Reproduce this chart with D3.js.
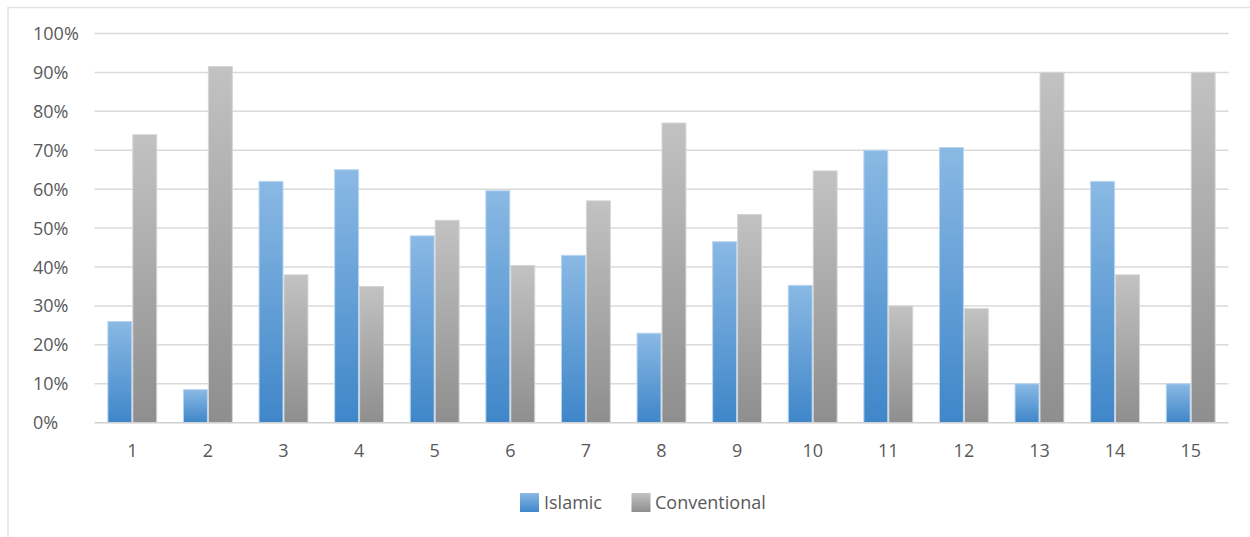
<!DOCTYPE html>
<html>
<head>
<meta charset="utf-8">
<script src="https://cdn.jsdelivr.net/npm/d3@7"></script>
<style>
  html, body { margin: 0; padding: 0; background: #fff; }
  svg { display: block; }
  text { font-family: "Open Sans", "DejaVu Sans", sans-serif; fill: #595959; }
</style>
</head>
<body>
<svg id="chart" width="1250" height="537"></svg>
<script>
// Share of each bank type per group (percent)
const categories = ["1","2","3","4","5","6","7","8","9","10","11","12","13","14","15"];
const islamic      = [26, 8.5, 62, 65, 48, 59.6, 43, 23, 46.5, 35.3, 70, 70.7, 10, 62, 10];
const conventional = [74, 91.5, 38, 35, 52, 40.4, 57, 77, 53.5, 64.7, 30, 29.3, 90, 38, 90];
const seriesNames  = ["Islamic", "Conventional"];
const yTicks       = [0, 10, 20, 30, 40, 50, 60, 70, 80, 90, 100];

const svg = d3.select("#chart");
const W = 1250, H = 537;
const plot = { left: 94.5, right: 1228.5, top: 33.5, bottom: 422.7 };

// Per-bar vertical gradients
const defs = svg.append("defs");
const grads = [
  { id: "g-islamic", top: "#8ab9e4", bottom: "#3f86c9" },
  { id: "g-conv",    top: "#c2c2c2", bottom: "#8e8e8e" }
];
grads.forEach(g => {
  const lg = defs.append("linearGradient").attr("id", g.id)
    .attr("x1", 0).attr("y1", 0).attr("x2", 0).attr("y2", 1);
  lg.append("stop").attr("offset", "0%").attr("stop-color", g.top);
  lg.append("stop").attr("offset", "100%").attr("stop-color", g.bottom);
});

// Chart frame (left and top edges visible)
svg.append("rect")
  .attr("x", 8).attr("y", 7.5)
  .attr("width", W + 10).attr("height", H + 10)
  .attr("fill", "#fff").attr("stroke", "#e3e3e3").attr("stroke-width", 1.5);

const x = d3.scaleBand().domain(categories).range([plot.left, plot.right]).paddingInner(0).paddingOuter(0);
const y = d3.scaleLinear().domain([0, 100]).range([plot.bottom, plot.top]);
const groupWidth = x.bandwidth() * 0.66;
const xs = d3.scaleBand().domain(seriesNames).range([0, groupWidth]).padding(0);

// Gridlines
svg.append("g")
  .selectAll("line").data(yTicks.filter(t => t > 0)).join("line")
  .attr("x1", plot.left).attr("x2", plot.right)
  .attr("y1", d => y(d)).attr("y2", d => y(d))
  .attr("stroke", "#dadada").attr("stroke-width", 1.5);

// Y tick labels (left aligned)
svg.append("g")
  .selectAll("text").data(yTicks).join("text")
  .attr("x", 33).attr("y", d => y(d))
  .attr("dy", "0.36em")
  .attr("font-size", 18)
  .text(d => d + "%");

// Bars
const data = categories.map((c, i) => ({ cat: c, vals: [islamic[i], conventional[i]] }));
const fills = ["url(#g-islamic)", "url(#g-conv)"];
const edges = ["#b9d6f0", "#d6d6d6"];
const groups = svg.append("g").selectAll("g").data(data).join("g")
  .attr("transform", d => `translate(${x(d.cat) + (x.bandwidth() - groupWidth) / 2},0)`);
groups.selectAll("rect").data(d => d.vals.map((v, j) => ({ v, j })))
  .join("rect")
  .attr("x", d => xs(seriesNames[d.j]) + 0.5)
  .attr("width", xs.bandwidth() - 1)
  .attr("y", d => y(d.v))
  .attr("height", d => y(0) - y(d.v))
  .attr("fill", d => fills[d.j])
  .attr("stroke", d => edges[d.j])
  .attr("stroke-width", 1);

// Baseline axis
svg.append("line")
  .attr("x1", plot.left).attr("x2", plot.right)
  .attr("y1", y(0)).attr("y2", y(0))
  .attr("stroke", "#d0d0d0").attr("stroke-width", 1.5);

// X category labels
svg.append("g")
  .selectAll("text").data(categories).join("text")
  .attr("x", d => x(d) + x.bandwidth() / 2)
  .attr("y", 457)
  .attr("text-anchor", "middle")
  .attr("font-size", 18)
  .text(d => d);

// Legend
const legendItems = [
  { name: seriesNames[0], fill: fills[0], sx: 520, tx: 544 },
  { name: seriesNames[1], fill: fills[1], sx: 631.5, tx: 655 }
];
const lg = svg.append("g");
legendItems.forEach(it => {
  lg.append("rect").attr("x", it.sx).attr("y", 493).attr("width", 19).attr("height", 19)
    .attr("fill", it.fill);
  lg.append("text").attr("x", it.tx).attr("y", 503).attr("dy", "0.36em")
    .attr("font-size", 18).text(it.name);
});
</script>
</body>
</html>
